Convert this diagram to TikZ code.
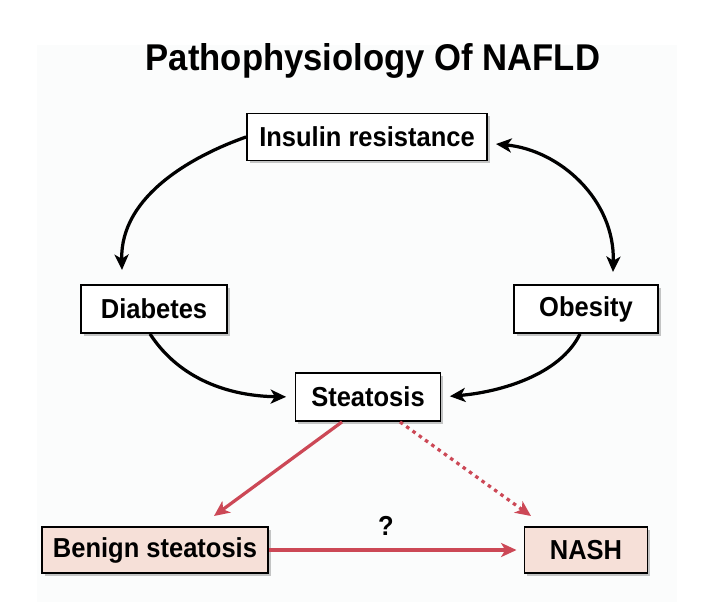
\documentclass[tikz,border=0pt]{standalone}
\usepackage{fontspec}
\setmainfont{Liberation Sans}[FakeStretch=0.93]
\usetikzlibrary{arrows.meta, shadows, calc}
\definecolor{panel}{RGB}{251,252,252}
\definecolor{lesion}{RGB}{246,224,216}
\definecolor{hepred}{RGB}{204,72,86}
\tikzset{
    >={Stealth[length=11pt, width=10pt, inset=3pt]},
    box/.style={draw, line width=1.3pt, fill=white, inner sep=0pt,
        font=\fontsize{19.5}{22}\selectfont\bfseries,
        drop shadow={shadow xshift=2pt, shadow yshift=-2pt, opacity=0.45}},
    liver/.style={box, fill=lesion},
    link/.style={line width=2.3pt, ->},
    redlink/.style={link, hepred, line width=2.3pt},
    maybe/.style={redlink, dash pattern=on 2.5pt off 3pt},
}

\begin{document}
\begin{tikzpicture}[x=0.025cm, y=-0.025cm]
    \fill[panel] (37,45) rectangle (677,602);
    \node[font=\fontsize{26.5}{30}\selectfont\bfseries] (title) at (373,61) {Pathophysiology Of NAFLD};
    % upper part
    \node[box, minimum width=6cm, minimum height=1.175cm] (ins) at (367,137) {Insulin resistance};
    \node[box, minimum width=3.65cm, minimum height=1.2cm] (dia) at (154,309) {Diabetes};
    \node[box, minimum width=3.6cm, minimum height=1.2cm] (obe) at (586,309) {Obesity};
    \node[box, minimum width=3.625cm, minimum height=1.2cm] (ste) at (368,397) {Steatosis};
    \coordinate (diaIn) at (122,270);
    \coordinate (insIn) at (496,144);
    \coordinate (obeIn) at (613,272);
    \draw[link] (ins.west) .. controls (195,155) and (120,195) .. (diaIn);
    \draw[link, <->] (insIn) .. controls (560,150) and (615,200) .. (obeIn);
    \draw[link, shorten >=6pt] ($(dia.south)+(-4,0)$) .. controls (180,380) and (230,396) .. (ste.west);
    \draw[link, shorten >=6pt] ($(obe.south)+(-6,0)$) .. controls (560,375) and (500,392) .. (ste.east);
    % lower part
    \node[liver, minimum width=5.65cm, minimum height=1.15cm] (ben) at (155,550) {Benign steatosis};
    \node[liver, minimum width=3.075cm, minimum height=1.15cm] (nash) at (586,550) {NASH};
    \coordinate (benIn) at (214,516);
    \coordinate (nashIn) at (531,516);
    \draw[redlink] ($(ste.south)+(-26,0)$) -- (benIn);
    \draw[maybe] ($(ste.south)+(32,0)$) -- (nashIn);
    \draw[redlink, shorten >=5pt] (ben.east) -- (nash.west);
    \node[font=\fontsize{19.5}{22}\selectfont\bfseries] (q) at (386,526) {?};
    \useasboundingbox (0,0) rectangle (716,602);
\end{tikzpicture}
\end{document}
